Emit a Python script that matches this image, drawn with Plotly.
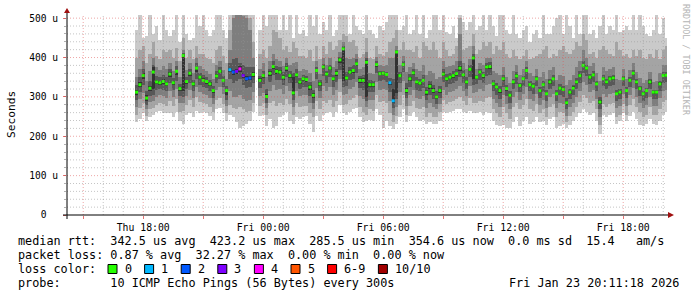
import plotly.graph_objects as go
import pandas as pd

# ---------------- data (10-minute columns, Thu 17:40 .. Fri 20:10) ----------------
times = pd.date_range("2026-01-22 17:40", periods=160, freq="10min")
N = None

median = [312,331,354,297,322,363,338,336,339,333,
          358,336,365,321,405,339,360,333,373,350,
          342,339,333,316,353,365,342,316,369,363,
          365,371,354,346,348,357,N,342,354,301,
          360,377,365,363,350,373,354,310,356,338,
          346,344,325,304,367,333,376,358,373,346,
          360,394,422,348,363,367,384,342,342,388,
          331,331,382,359,360,357,336,290,414,354,
          382,316,346,361,338,335,342,312,327,316,
          300,316,358,346,350,354,359,373,356,338,
          370,399,350,363,354,376,377,333,325,316,
          346,321,304,338,353,329,346,367,331,327,
          346,316,331,308,338,346,308,322,319,285,
          312,322,338,354,380,373,350,356,333,287,
          346,338,346,348,308,312,346,316,342,360,
          338,321,308,316,338,312,312,333,354,355]

loss = [0,0,0,0,0,0,0,0,0,0, 0,0,0,0,0,0,0,0,0,0,
        0,0,0,0,0,0,0,0,1,2, 3,4,3,2,2,0,N,0,0,0,
        0,0,0,0,0,0,0,0,0,0, 0,0,0,0,0,0,0,0,0,0,
        0,0,0,0,0,0,0,0,0,0, 0,0,0,0,0,0,1,1,0,0,
        0,0,0,0,0,0,0,0,0,0, 0,0,0,0,0,0,0,0,0,0,
        0,0,0,0,0,0,0,0,0,0, 0,0,0,0,0,0,0,0,0,0,
        0,0,0,0,0,0,0,0,0,0, 0,0,0,0,0,0,0,0,0,0,
        0,0,0,0,0,0,0,0,0,0, 0,0,0,0,0,0,0,0,0,0]

# sorted pings, p1 = fastest ... p10 = slowest (microseconds)
p10 = [470,520,450,455,520,460,480,445,520,470, 455,470,520,440,530,460,445,450,520,480,
       520,470,455,470,540,520,470,450,560,600, 600,600,600,600,580,520,N,470,520,480,
       520,560,540,470,520,470,510,450,540,460, 470,455,530,480,540,460,490,470,540,455,
       470,530,560,540,460,530,480,470,460,540, 470,460,450,480,470,490,530,560,580,470,
       480,520,460,470,530,460,540,450,470,530, 520,470,540,465,460,480,450,560,490,470,
       490,540,470,480,520,470,530,480,455,540, 560,470,460,520,460,450,470,480,440,460,
       470,450,520,460,460,480,500,520,460,510, 480,450,540,460,560,520,460,470,450,480,
       540,460,480,470,540,465,470,480,470,520, 470,530,480,460,455,470,540,460,500,450]
p9 = [400,420,430,385,410,440,405,395,420,415, 420,400,425,390,450,400,420,395,430,410,
      410,400,395,385,420,430,405,385,470,520, 560,560,540,530,500,440,N,410,420,400,
      430,470,465,450,420,430,415,440,425,405, 405,400,420,390,430,395,430,410,440,420,
      430,445,460,455,440,445,430,400,410,450, 400,395,430,410,405,415,440,450,470,420,
      440,420,420,415,430,400,440,430,420,440, 420,400,440,420,405,410,430,500,420,425,
      430,460,410,420,440,430,440,410,430,420, 440,410,400,420,405,395,405,420,395,400,
      405,410,420,430,400,410,405,420,430,415, 410,420,440,430,460,445,410,415,400,420,
      430,420,410,405,440,420,405,410,400,420, 405,420,400,395,410,400,420,395,420,430]
p8 = [350,372,390,340,365,400,375,368,378,372, 385,365,392,350,420,368,385,360,400,378,
      372,365,358,345,382,392,368,345,420,500, 510,520,505,500,470,400,N,372,385,350,
      392,410,395,392,378,398,380,385,388,365, 372,368,360,340,392,358,398,380,398,375,
      390,415,440,400,395,400,408,372,375,415, 360,358,402,380,378,380,400,400,430,380,
      405,362,375,385,372,365,380,355,365,360, 345,350,390,375,378,382,390,460,385,370,
      395,430,372,385,380,398,400,365,360,355, 375,350,335,365,380,355,372,392,360,352,
      372,350,362,345,368,375,342,355,352,330, 342,355,375,392,420,400,378,385,360,340,
      375,365,372,375,345,342,372,345,368,385, 362,348,335,342,362,338,340,360,380,382]
p7 = [330,350,370,315,340,382,352,350,355,350, 370,348,378,332,412,350,370,342,385,360,
      355,350,342,328,365,375,352,328,385,395, 400,385,380,375,375,375,N,352,365,320,
      372,390,378,375,362,385,365,360,370,348, 356,352,338,318,376,342,384,365,382,355,
      372,402,430,362,375,380,395,352,355,400, 342,340,390,366,366,364,348,345,420,362,
      392,336,358,370,350,345,355,325,340,330, 315,328,372,358,360,365,370,390,368,350,
      380,410,356,370,362,385,388,342,335,328, 356,330,314,345,362,336,352,376,340,335,
      352,326,340,318,346,355,318,332,328,298, 320,330,348,365,390,382,358,365,340,300,
      355,346,354,356,318,320,354,325,350,368, 345,328,315,322,345,318,318,340,362,362]
p6 = [318,338,360,305,328,375,343,341,345,338, 362,340,369,326,408,343,364,337,377,354,
      347,343,337,320,357,369,346,320,373,368, 372,378,360,352,354,362,N,347,359,308,
      365,382,370,368,355,378,358,350,361,342, 350,348,330,309,371,337,380,362,377,350,
      366,398,426,353,368,372,389,347,348,393, 336,335,386,363,363,360,341,320,417,358,
      386,322,350,365,343,339,346,317,332,322, 305,320,362,350,354,358,363,378,360,342,
      374,404,352,366,357,380,381,336,328,320, 350,325,308,341,357,332,349,371,334,330,
      350,320,335,312,342,350,312,326,323,290, 316,327,342,358,384,377,354,360,337,292,
      350,342,350,352,312,316,350,320,346,364, 342,325,312,320,342,316,316,337,358,358]
p5 = [306,325,345,290,316,320,332,330,333,327, 350,331,355,315,315,334,352,328,362,345,
      337,334,328,311,348,360,337,305,364,355, 358,364,348,340,342,350,N,337,348,296,
      354,371,359,357,344,366,349,305,350,333, 341,339,318,298,362,328,371,352,368,340,
      354,385,340,342,357,361,378,336,335,300, 326,326,377,355,356,353,330,285,310,350,
      378,310,341,356,333,330,337,306,321,310, 294,311,352,341,345,349,354,367,351,333,
      365,345,346,358,349,370,372,328,320,310, 341,316,299,334,348,325,342,362,327,322,
      342,312,327,304,334,342,304,318,315,280, 308,318,334,350,376,369,346,352,329,282,
      342,334,342,344,304,308,342,312,338,356, 334,317,304,312,334,308,308,329,350,351]
p4 = [292,312,330,280,302,305,318,320,318,314, 335,318,340,302,300,320,336,315,345,330,
      325,322,315,298,335,345,325,292,345,335, 340,345,330,322,325,335,N,322,332,285,
      338,355,343,342,330,350,335,292,335,320, 326,325,303,285,345,315,352,336,350,325,
      338,368,325,328,342,345,360,322,318,290, 312,312,360,340,342,338,312,272,295,335,
      362,296,326,340,318,315,322,292,305,295, 282,298,338,326,332,335,340,350,336,320,
      350,330,332,342,335,352,356,315,305,295, 326,302,285,320,334,312,328,346,314,308,
      328,298,312,290,320,328,290,305,300,268, 295,305,320,336,360,352,332,338,315,268,
      328,320,328,330,290,295,328,298,325,342, 320,303,290,298,320,295,295,315,336,338]
p3 = [275,295,310,268,288,290,300,305,302,298, 315,300,320,285,285,302,318,298,325,312,
      308,305,298,282,318,325,308,278,315,300, 300,305,295,290,292,312,N,302,310,272,
      315,330,318,320,308,328,315,275,315,302, 305,305,285,268,322,296,328,315,325,305,
      318,345,305,308,320,325,338,302,295,275, 292,292,338,318,320,318,290,255,275,312,
      340,278,305,318,298,295,302,272,285,275, 268,282,318,305,312,315,320,328,315,302,
      328,310,312,320,315,330,332,295,285,275, 305,282,268,300,312,292,308,325,295,290,
      308,280,292,272,300,308,272,285,282,252, 275,285,300,315,338,330,312,318,295,250,
      308,300,308,310,272,278,308,278,305,322, 300,285,272,280,300,278,278,296,315,318]
p2 = [255,272,285,252,268,272,280,285,282,278, 290,278,295,262,265,280,292,275,300,288,
      285,282,275,262,292,298,282,258,280,272, 268,275,268,262,265,285,N,278,285,255,
      285,290,278,285,280,295,282,255,285,275, 278,278,258,248,290,268,290,285,292,275,
      290,312,280,282,292,298,305,275,262,255, 268,265,305,288,290,285,260,235,252,280,
      305,255,278,290,272,268,275,248,258,250, 250,262,292,282,288,290,295,300,290,280,
      298,285,285,290,288,298,300,270,258,250, 275,258,245,275,285,268,280,295,270,265,
      282,258,268,250,275,282,250,262,258,235, 252,262,275,288,305,298,285,290,270,228,
      282,275,282,285,250,255,282,255,280,295, 275,262,250,255,275,255,255,270,288,292]
p1 = [236,245,258,240,250,255,262,265,260,258, 260,250,262,240,232,255,260,248,265,258,
      262,258,252,242,268,272,258,240,255,250, 235,222,225,232,238,262,N,252,255,225,
      245,220,225,250,255,262,240,232,250,245, 250,252,232,212,252,240,255,258,262,248,
      262,280,258,255,262,268,272,250,235,238, 242,238,270,255,220,240,225,218,230,250,
      268,235,252,262,248,240,242,230,236,232, 232,240,262,258,262,265,268,268,262,258,
      265,258,258,262,255,262,260,240,228,225, 228,222,220,235,250,225,240,250,230,235,
      250,235,240,228,245,250,222,225,230,220, 228,238,250,258,270,262,255,260,240,206,
      255,248,255,258,232,238,258,238,252,262, 245,228,225,230,245,230,228,240,255,262]

loss_labels = ["0", "1", "2", "3", "4", "5", "6-9", "10/10"]
loss_palette = ["#26ff00", "#00b8ff", "#0059ff", "#7e00ff", "#ff00ff", "#ff5500", "#ff0000", "#a10000"]

y_tick_vals = [0, 100, 200, 300, 400, 500]
y_tick_text = ["0\u00a0\u00a0", "100 u", "200 u", "300 u", "400 u", "500 u"]
x_tick_vals = list(pd.date_range("2026-01-22 15:00", "2026-01-23 18:00", freq="3h"))
x_tick_text = ["", "Thu 18:00", "", "Fri 00:00", "", "Fri 06:00", "", "Fri 12:00", "", "Fri 18:00"]

line_rtt = "median rtt:  342.5 us avg  423.2 us max  285.5 us min  354.6 us now  0.0 ms sd  15.4   am/s"
line_loss = "packet loss: 0.87 % avg  32.27 % max  0.00 % min  0.00 % now"
line_color = "loss color:"
line_probe = "probe:       10 ICMP Echo Pings (56 Bytes) every 300s"
stamp = "Fri Jan 23 20:11:18 2026"
watermark = "RRDTOOL / TOBI OETIKER"

# ---------------- figure ----------------
W, H = 697, 297
L, R, T, B = 67, 30, 15, 82
PW, PH = W - L - R, H - T - B
FONT = "DejaVu Sans Mono"


def px(x):
    return (x - L) / PW


def py(y):
    return (H - B - y) / PH


def nb(s):
    return s.replace(" ", "\u00a0")


fig = go.Figure()

bands = [(p1, p10, "#cacaca"), (p2, p9, "#a4a4a4"), (p3, p8, "#7e7e7e"),
         (p4, p7, "#585858"), (p5, p6, "#323232")]
for lo, hi, col in bands:
    heights = [None if (a is None or b is None) else b - a for a, b in zip(lo, hi)]
    fig.add_trace(go.Bar(x=times, y=heights, base=lo, width=600000,
                         marker=dict(color=col, line=dict(width=0)),
                         hoverinfo="skip", showlegend=False))


def loss_idx(n):
    if n is None:
        return 0
    if n <= 5:
        return n
    if n < 10:
        return 6
    return 7


fig.add_trace(go.Scatter(x=times, y=median, mode="markers",
                         marker=dict(symbol="square", size=3,
                                     color=[loss_palette[loss_idx(n)] for n in loss],
                                     line=dict(width=0)),
                         hoverinfo="skip", showlegend=False))

shapes = []
GRID = "rgba(150,150,150,0.55)"
MGRID = "rgba(222,79,79,0.5)"
for v in range(20, 501, 20):
    shapes.append(dict(type="line", xref="paper", yref="y", x0=0, x1=1, y0=v, y1=v,
                       line=dict(color=MGRID if v % 100 == 0 else GRID, width=1, dash="1px,2px"),
                       layer="above"))
for t in pd.date_range("2026-01-22 15:00", "2026-01-23 20:00", freq="1h"):
    shapes.append(dict(type="line", xref="x", yref="paper", x0=t, x1=t, y0=0, y1=1,
                       line=dict(color=MGRID if t.hour % 3 == 0 else GRID, width=1, dash="1px,2px"),
                       layer="above"))
# axis lines
shapes.append(dict(type="line", xref="paper", yref="paper", x0=px(63), x1=px(669),
                   y0=py(215), y1=py(215), line=dict(color="#000000", width=1), layer="above"))
shapes.append(dict(type="line", xref="paper", yref="paper", x0=px(67), x1=px(67),
                   y0=py(219), y1=py(12), line=dict(color="#000000", width=1), layer="above"))
# arrows
ARW = "#a01010"
shapes.append(dict(type="path", xref="paper", yref="paper",
                   path=f"M {px(64)},{py(13)} L {px(70)},{py(13)} L {px(67)},{py(8)} Z",
                   fillcolor=ARW, line=dict(width=0), layer="above"))
shapes.append(dict(type="path", xref="paper", yref="paper",
                   path=f"M {px(668)},{py(212)} L {px(668)},{py(218)} L {px(674)},{py(215)} Z",
                   fillcolor=ARW, line=dict(width=0), layer="above"))

annotations = []


def text(x, y, s, size=11.8, anchor="left", color="#000000", angle=0):
    annotations.append(dict(x=px(x), y=py(y), xref="paper", yref="paper", text=nb(s),
                            showarrow=False, xanchor=anchor, yanchor="middle",
                            textangle=angle, font=dict(family=FONT, size=size, color=color)))


text(16, 241, line_rtt)
text(16, 255, line_loss)
text(16, 269, line_color)
text(16, 283, line_probe)
text(681, 283, stamp, anchor="right")
text(11, 115, "Seconds", size=11.2, anchor="center", angle=-90)
text(686, 60, watermark, size=8.4, anchor="center", color="#b4b4b4", angle=90)

CH = 7.1
bx = 108.0
for lab, col in zip(loss_labels, loss_palette):
    shapes.append(dict(type="rect", xref="paper", yref="paper",
                       x0=px(bx), x1=px(bx + 9), y0=py(273.5), y1=py(264.5),
                       fillcolor=col, line=dict(color="#000000", width=1), layer="above"))
    text(bx + 14.5, 269, lab)
    bx = bx + 14.5 + len(lab) * CH + 15

fig.update_layout(
    width=W, height=H, margin=dict(l=L, r=R, t=T, b=B, pad=0),
    paper_bgcolor="#ffffff", plot_bgcolor="#ffffff",
    barmode="overlay", bargap=0,
    shapes=shapes, annotations=annotations, showlegend=False,
    font=dict(family=FONT, color="#000000"),
    xaxis=dict(type="date", range=["2026-01-22 14:11:18", "2026-01-23 20:11:18"],
               tickmode="array", tickvals=x_tick_vals, ticktext=x_tick_text,
               showgrid=False, zeroline=False, showline=False, automargin=False,
               ticks="outside", ticklen=3, tickcolor="rgba(222,79,79,0.8)",
               tickfont=dict(family=FONT, size=9.8, color="#000000")),
    yaxis=dict(range=[0, 508], tickmode="array", tickvals=y_tick_vals, ticktext=y_tick_text,
               showgrid=False, zeroline=False, showline=False, automargin=False,
               ticks="outside", ticklen=3, tickcolor="rgba(222,79,79,0.8)",
               ticklabelstandoff=3,
               minor=dict(tickvals=list(range(20, 501, 20)), ticks="outside", ticklen=2,
                          tickcolor="#b0b0b0", showgrid=False),
               tickfont=dict(family=FONT, size=9.6, color="#000000")),
)

fig.write_html("out.html")
